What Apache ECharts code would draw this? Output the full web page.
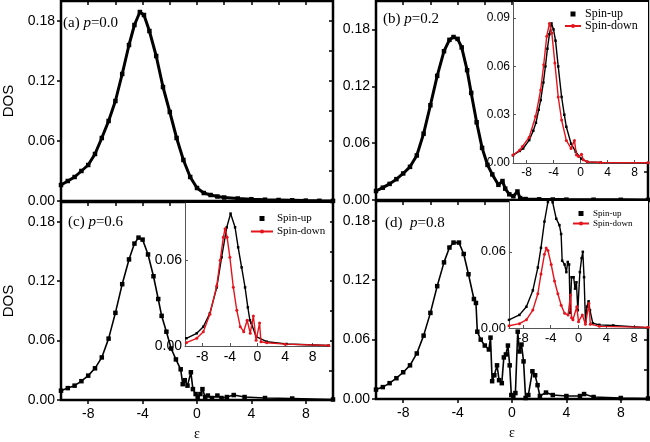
<!DOCTYPE html>
<html><head><meta charset="utf-8">
<script src="https://cdn.jsdelivr.net/npm/echarts@6/dist/echarts.min.js"></script>
<style>html,body{margin:0;padding:0;background:#fff}#c{width:650px;height:442px}</style>
</head><body><div id="c"></div>
<script>
// ---- main panels (energy eps, DOS) ----
const epsA = [-10,-9.5,-9,-8.5,-8,-7.5,-7,-6.5,-6,-5.5,-5,-4.6,-4.2,-3.9,-3.5,-3,-2.5,-2,-1.5,-1,-0.5,0,0.5,1,1.5,2,3,4,5,6,7,8,9,10];
const dosA = [0.016,0.020,0.024,0.030,0.036,0.047,0.063,0.080,0.100,0.127,0.156,0.176,0.189,0.186,0.170,0.145,0.114,0.089,0.063,0.041,0.024,0.013,0.008,0.006,0.0045,0.0035,0.0025,0.0018,0.0013,0.001,0.0007,0.0004,0.0002,0.0001];

const epsB = [-10,-9.5,-9,-8.5,-8,-7.5,-7,-6.5,-6,-5.5,-5,-4.6,-4.3,-4,-3.7,-3.3,-3,-2.6,-2.2,-1.8,-1.45,-1,-0.7,-0.5,-0.2,0.1,0.4,0.6,1,2,3,4,6,8,10];
const dosB = [0.0095,0.013,0.017,0.022,0.028,0.035,0.047,0.070,0.100,0.131,0.157,0.169,0.172,0.170,0.161,0.137,0.113,0.082,0.055,0.037,0.027,0.016,0.020,0.012,0.006,0.004,0.009,0.002,0.001,0.0007,0.0005,0.0004,0.0003,0.0002,0.0001];

const epsC = [-10,-9.5,-9,-8.5,-8,-7.5,-7,-6.5,-6,-5.5,-5,-4.6,-4.3,-4,-3.6,-3.2,-2.85,-2.6,-2.25,-1.9,-1.55,-1.2,-1.05,-0.9,-0.7,-0.45,-0.3,-0.1,0.05,0.25,0.4,0.6,0.8,1.1,1.5,1.8,2.2,2.7,3.5,5,7,10];
const dosC = [0.0094,0.012,0.0145,0.019,0.0246,0.032,0.043,0.062,0.088,0.117,0.142,0.158,0.164,0.162,0.147,0.125,0.102,0.085,0.069,0.052,0.041,0.031,0.016,0.020,0.0145,0.028,0.011,0.006,0.003,0.006,0.011,0.003,0.0045,0.002,0.0045,0.002,0.003,0.005,0.003,0.002,0.0015,0.0005];

const epsD = [-10,-9.5,-9,-8.5,-8,-7.5,-7,-6.5,-6,-5.5,-5,-4.6,-4.3,-3.9,-3.55,-3.2,-2.8,-2.65,-2.55,-2.3,-2.0,-1.7,-1.58,-1.46,-1.3,-1.1,-0.95,-0.75,-0.6,-0.45,-0.3,-0.17,-0.05,0.1,0.25,0.42,0.55,0.7,0.85,1.0,1.2,1.5,1.7,1.88,2.05,2.5,3,4,5,5.3,6,8,10];
const dosD = [0.0095,0.012,0.016,0.021,0.027,0.034,0.046,0.064,0.087,0.114,0.138,0.153,0.158,0.158,0.1465,0.126,0.101,0.097,0.068,0.060,0.054,0.050,0.062,0.018,0.024,0.034,0.019,0.016,0.042,0.045,0.054,0.034,0.004,0.003,0.006,0.068,0.048,0.055,0.038,0.001,0.004,0.028,0.024,0.014,0.003,0.0065,0.004,0.003,0.003,0.005,0.002,0.001,0.0005];

// ---- insets: spin-up / spin-down ----
const ibEpsUp = [-10,-9,-8.5,-7.6,-7,-6.6,-6.2,-5.9,-5.5,-5.2,-4.9,-4.6,-4.3,-4.0,-3.7,-3.3,-2.8,-2.4,-2.1,-1.4,-0.7,0.1,1.0,3,10];
const ibUp    = [0.0048,0.0075,0.009,0.0142,0.020,0.025,0.033,0.039,0.050,0.060,0.071,0.080,0.0867,0.083,0.076,0.060,0.041,0.030,0.0225,0.012,0.0069,0.0027,0.0007,0.0003,0.0001];
const ibEpsDn = [-10,-9,-8.6,-7.6,-6.65,-5.9,-5.45,-5.0,-4.6,-4.25,-3.8,-3.3,-2.8,-2.1,-1.4,-0.9,-0.6,-0.3,0.15,0.4,1.0,3,10];
const ibDn    = [0.005,0.008,0.0103,0.016,0.029,0.0454,0.061,0.0788,0.0867,0.0808,0.0621,0.041,0.0267,0.014,0.009,0.014,0.005,0.004,0.0054,0.002,0.0007,0.0003,0.0002];

const icEpsUp = [-10.3,-8.8,-7.85,-6.9,-5.9,-5.2,-4.45,-3.9,-3.25,-2.8,-2.3,-1.8,-1.4,-1.1,-0.9,-0.2,1.35,4.2,10.3];
const icUp    = [0.0054,0.0089,0.0135,0.0228,0.041,0.062,0.083,0.0926,0.083,0.069,0.055,0.041,0.027,0.018,0.016,0.0065,0.003,0.0014,0.0003];
const icEpsDn = [-10.3,-8.8,-7.85,-6.9,-5.9,-5.4,-4.95,-4.7,-4.4,-4.0,-3.5,-3.0,-2.5,-2.0,-1.5,-1.05,-0.6,-0.2,0.3,0.5,1.35,4,10.3];
const icDn    = [0.0023,0.0054,0.010,0.0222,0.0421,0.060,0.076,0.082,0.076,0.062,0.041,0.025,0.0135,0.010,0.018,0.009,0.021,0.004,0.016,0.003,0.0023,0.0013,0.0003];

const idEpsUp = [-10,-8.5,-7.5,-6.57,-5.85,-5.4,-4.9,-4.4,-4.1,-3.72,-3.2,-2.75,-2.5,-2.35,-2.0,-1.75,-1.55,-1.35,-1.2,-1.0,-0.7,-0.5,-0.3,-0.1,0.2,0.45,0.62,0.8,1.0,1.2,1.45,1.65,2.06,3,5,10];
const idUp    = [0.0064,0.0103,0.0167,0.0296,0.0476,0.0631,0.0838,0.0992,0.105,0.099,0.086,0.081,0.074,0.053,0.050,0.044,0.052,0.050,0.012,0.040,0.040,0.031,0.036,0.014,0.044,0.055,0.060,0.040,0.005,0.0167,0.021,0.014,0.0037,0.0025,0.002,0.0003];
const idEpsDn = [-10,-8.5,-7.5,-6.57,-5.85,-5.4,-4.9,-4.65,-4.4,-3.93,-3.45,-2.97,-2.5,-2.0,-1.5,-1.15,-1.0,-0.8,-0.25,0.0,0.55,1.0,1.5,1.7,3.0,10];
const idDn    = [0.0018,0.0034,0.0064,0.0141,0.027,0.0425,0.058,0.063,0.061,0.050,0.037,0.027,0.018,0.0116,0.0103,0.026,0.008,0.0064,0.0167,0.005,0.0103,0.003,0.0193,0.003,0.0013,0.0005];

// ---- tick labels ----
const xTicks = [-8,-4,0,4,8];
const xMinor = [-8,-6,-4,-2,0,2,4,6,8];
const yTicksMain = [0,0.06,0.12,0.18];
const yRightTicks = [0.03,0.06,0.09,0.12,0.15,0.18];
const yTicksInsetB = [0,0.03,0.06,0.09];
const yTicksInsetCD = [0,0.06];
const panelLabels = ['(a) {i|p}=0.0','(b) {i|p}=0.2','(c) {i|p}=0.6','(d)  {i|p}=0.8'];
const seriesNames = ['Spin-up','Spin-down'];

const SANS = 'Liberation Sans, Arial, sans-serif';
const SERIF = 'Liberation Serif, Times New Roman, serif';
const RED = '#e4141c';
const zip = (xs, ys) => xs.map((x, i) => [x, ys[i]]);

const mainGrids = [
  {left:59, top:1, width:274, height:200},
  {left:376, top:1, width:272, height:199},
  {left:59, top:202, width:274, height:199},
  {left:376, top:201, width:272, height:198}
].map(g => Object.assign(g, {show:true, borderColor:'#000', borderWidth:2.5, backgroundColor:'transparent'}));
const insetGrids = [
  {left:513, top:2, width:135, height:161},
  {left:185, top:203, width:145, height:143},
  {left:509, top:201, width:139, height:127}
].map(g => Object.assign(g, {show:true, borderWidth:0, backgroundColor:'#fff', z:3}));

const yMax = [0.2, 0.21, 0.2, 0.2];
const xAxes = [], yAxes = [];
for (let i = 0; i < 4; i++) {
  xAxes.push({gridIndex:i, type:'value', min:-10, max:10, position:'bottom',
    axisLine:{show:false, onZero:false}, splitLine:{show:false},
    axisTick:{show:i>=2, customValues:xTicks, length:4, lineStyle:{color:'#000', width:1.5}},
    axisLabel:{show:i>=2, customValues:xTicks, fontSize:14, color:'#000', fontFamily:SANS, margin:7},
    name: i>=2 ? 'ε' : '', nameLocation:'middle', nameGap:27,
    nameTextStyle:{fontFamily:SERIF, fontSize:14, color:'#000'}});
}
for (let i = 0; i < 4; i++) {
  xAxes.push({gridIndex:i, type:'value', min:-10, max:10, position:'top',
    axisLine:{show:false, onZero:false}, splitLine:{show:false},
    axisTick:{show:true, inside:true, customValues:xMinor, length:4, lineStyle:{color:'#000', width:1.5}},
    axisLabel:{show:false}});
}
const insetX = [[-10,10,12],[-10.5,10.5,14],[-10,10,13]];
insetX.forEach((r, k) => {
  xAxes.push({gridIndex:4+k, type:'value', min:r[0], max:r[1], position:'bottom', z:5,
    axisLine:{show:true, onZero:false, lineStyle:{color:'#555', width:1}}, splitLine:{show:false},
    axisTick:{show:true, inside:true, customValues:xTicks, length:3, lineStyle:{color:'#555'}},
    axisLabel:{customValues:xTicks, fontSize:r[2], color:'#000', fontFamily:SANS, margin:4}});
});
for (let i = 0; i < 4; i++) {
  yAxes.push({gridIndex:i, type:'value', min:0, max:yMax[i], position:'left',
    axisLine:{show:false, onZero:false}, splitLine:{show:false},
    axisTick:{show:true, customValues:yTicksMain, length:4, lineStyle:{color:'#000', width:1.5}},
    axisLabel:{customValues:yTicksMain, formatter:v => v.toFixed(2), fontSize:14, color:'#000', fontFamily:SANS, margin:6},
    name: (i===0||i===2) ? 'DOS' : '', nameLocation:'middle', nameRotate:90, nameGap:45,
    nameTextStyle:{fontFamily:SANS, fontSize:15, color:'#000'}});
}
for (let i = 0; i < 4; i++) {
  yAxes.push({gridIndex:i, type:'value', min:0, max:yMax[i], position:'right',
    axisLine:{show:false, onZero:false}, splitLine:{show:false},
    axisTick:{show:true, inside:true, customValues: i===1 ? yRightTicks.concat([0.21]) : yRightTicks, length:4, lineStyle:{color:'#000', width:1.5}},
    axisLabel:{show:false}});
}
const insetY = [[yTicksInsetB,12],[yTicksInsetCD,14],[yTicksInsetCD,13]];
insetY.forEach((r, k) => {
  yAxes.push({gridIndex:4+k, type:'value', min:0, max:0.1, position:'left', z:5,
    axisLine:{show:true, onZero:false, lineStyle:{color:'#555', width:1}}, splitLine:{show:false},
    axisTick:{show:true, inside:true, customValues:r[0], length:3, lineStyle:{color:'#555'}},
    axisLabel:{customValues:r[0], formatter:v => v.toFixed(2), fontSize:r[1], color:'#000', fontFamily:SANS, margin:3}});
});

const mainData = [zip(epsA,dosA), zip(epsB,dosB), zip(epsC,dosC), zip(epsD,dosD)];
const series = mainData.map((d, i) => ({
  type:'line', xAxisIndex:i, yAxisIndex:i, data:d, symbol:'rect', symbolSize:4.5,
  itemStyle:{color:'#000'}, lineStyle:{color:'#000', width: i<2 ? 3 : 1.6}, z:2, silent:true
}));
const insetData = [
  [zip(ibEpsUp,ibUp), zip(ibEpsDn,ibDn)],
  [zip(icEpsUp,icUp), zip(icEpsDn,icDn)],
  [zip(idEpsUp,idUp), zip(idEpsDn,idDn)]
];
insetData.forEach((pair, k) => {
  series.push({name:seriesNames[0], type:'line', xAxisIndex:8+k, yAxisIndex:8+k, data:pair[0],
    symbol:'rect', symbolSize:2.5, itemStyle:{color:'#000'}, lineStyle:{color:'#000', width:1.4}, z:6, silent:true});
  series.push({name:seriesNames[1], type:'line', xAxisIndex:8+k, yAxisIndex:8+k, data:pair[1],
    symbol:'circle', symbolSize:3, itemStyle:{color:RED}, lineStyle:{color:RED, width:1.4}, z:7, silent:true});
});

const legendPos = [[564,8,16,12,0],[250,213,22,11,2],[572,209,16,9,1]];
const legend = legendPos.map(p => ({
  left:p[0], top:p[1], orient:'vertical', padding:0, itemGap:p[4], itemWidth:p[2], itemHeight:5,
  selectedMode:false, z:10,
  data:[{name:seriesNames[0], icon:'path://M0,0h1v1h-1z'}, {name:seriesNames[1]}],
  textStyle:{fontFamily:SERIF, fontSize:p[3], color:'#000', padding:[0,0,0,-1]}
}));

const titlePos = [[63,16],[383,12],[68,215],[385,216]];
const title = panelLabels.map((t, i) => ({
  text:t, left:titlePos[i][0], top:titlePos[i][1], padding:0,
  textStyle:{fontFamily:SERIF, fontSize:15, fontWeight:'normal', color:'#000',
    rich:{i:{fontStyle:'italic', fontFamily:SERIF, fontSize:15, color:'#000'}}}
}));

const chart = echarts.init(document.getElementById('c'));
chart.setOption({
  backgroundColor:'#fff', animation:false,
  title, legend,
  grid: mainGrids.concat(insetGrids),
  xAxis: xAxes, yAxis: yAxes, series
});
</script></body></html>
